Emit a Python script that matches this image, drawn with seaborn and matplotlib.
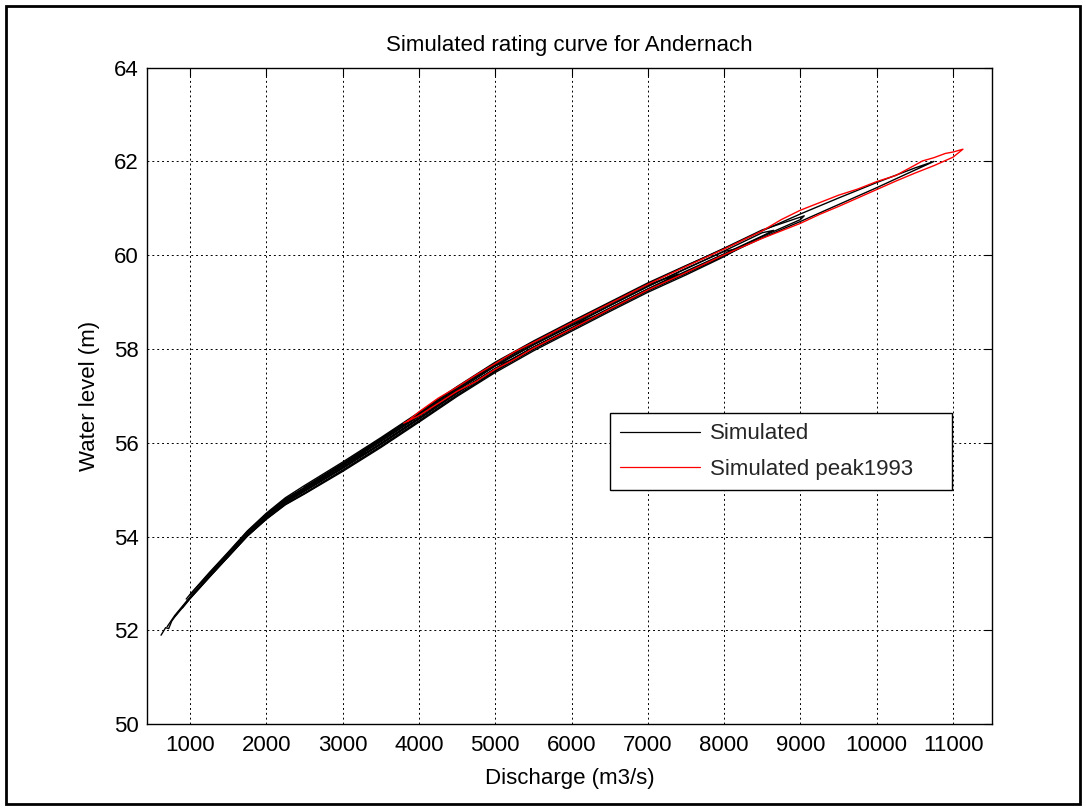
import numpy as np
import pandas as pd
import matplotlib
matplotlib.use("Agg")
import matplotlib.pyplot as plt
from matplotlib.patches import Rectangle
from matplotlib.lines import Line2D
import seaborn as sns

# ---------------------------------------------------------------------------
# Simulated stage-discharge loops at Andernach (Q in m3/s, h in m)
# Each event: rising limb then falling limb, as one continuous path.
# ---------------------------------------------------------------------------
ev1_q = [620, 680, 720, 760, 800, 1000, 1250, 1500, 1750, 2000, 2250, 2500, 3000, 3500, 4000, 4500, 5000,
         5500, 6000, 6500, 7000, 7500, 8000, 8500, 9000, 9500, 10000, 10400, 10750,
         10500, 10000, 9500, 9000, 8500, 8000, 7500, 7000, 6500, 6000, 5500, 5000, 4500,
         4000, 3500, 3000, 2500, 2250, 2000, 1750, 1500, 1250, 1000, 950]
ev1_h = [51.90, 52.06, 52.04, 52.20, 52.29, 52.68, 53.13, 53.57, 54.01, 54.38, 54.70, 54.93, 55.42, 55.93, 56.47, 57.02, 57.53,
         57.99, 58.41, 58.83, 59.24, 59.61, 59.99, 60.37, 60.72, 61.08, 61.44, 61.74, 62.00,
         61.86, 61.55, 61.22, 60.88, 60.52, 60.14, 59.78, 59.41, 59.00, 58.59, 58.17, 57.72, 57.20,
         56.65, 56.11, 55.59, 55.09, 54.83, 54.50, 54.12, 53.67, 53.23, 52.77, 52.67]

ev2_q = [1000, 1250, 1500, 1750, 2000, 2250, 2500, 3000, 3500, 4000, 4500, 5000, 5500, 6000,
         6500, 7000, 7500, 8000, 8500, 9000, 9050,
         8500, 8000, 7500, 7000, 6500, 6000, 5500, 5000, 4500, 4000, 3500, 3000, 2500, 2250,
         2000, 1750, 1500, 1250, 1150]
ev2_h = [52.70, 53.15, 53.60, 54.04, 54.41, 54.73, 54.97, 55.46, 55.97, 56.51, 57.06, 57.57, 58.03, 58.44,
         58.86, 59.27, 59.64, 60.02, 60.40, 60.76, 60.84,
         60.54, 60.15, 59.77, 59.39, 58.98, 58.57, 58.15, 57.70, 57.18, 56.63, 56.09, 55.56, 55.05, 54.80,
         54.48, 54.10, 53.65, 53.21, 53.02]

ev3_q = [800, 1000, 1250, 1500, 1750, 2000, 2250, 2500, 3000, 3500, 4000, 4500, 5000, 5500,
         6000, 6500, 7000, 7500, 8000, 8500, 8650,
         8500, 8000, 7500, 7000, 6500, 6000, 5500, 5000, 4500, 4000, 3500, 3000, 2500, 2250,
         2000, 1750, 1500]
ev3_h = [52.30, 52.71, 53.16, 53.61, 54.05, 54.42, 54.74, 54.98, 55.47, 55.99, 56.53, 57.08, 57.59, 58.04,
         58.45, 58.87, 59.28, 59.66, 60.03, 60.41, 60.53,
         60.48, 60.09, 59.71, 59.34, 58.93, 58.51, 58.10, 57.65, 57.13, 56.58, 56.04, 55.52, 55.02, 54.78,
         54.46, 54.09, 53.64]

ev4_q = [1300, 1500, 1750, 2000, 2250, 2500, 3000, 3500, 4000, 4500, 5000, 5500, 6000, 6500,
         7000, 7500, 8000, 8200,
         8000, 7500, 7000, 6500, 6000, 5500, 5000, 4500, 4000, 3500, 3000, 2500, 2250, 2000]
ev4_h = [53.23, 53.57, 54.01, 54.37, 54.68, 54.91, 55.39, 55.90, 56.44, 56.99, 57.50, 57.96, 58.38, 58.80,
         59.21, 59.58, 59.97, 60.15,
         60.08, 59.72, 59.33, 58.92, 58.50, 58.09, 57.64, 57.12, 56.57, 56.03, 55.51, 55.02, 54.78, 54.46]

ev5_q = [1100, 1250, 1500, 1750, 2000, 2250, 2500, 3000, 3500, 4000, 4500, 5000, 5500, 6000,
         6500, 7000, 7400,
         7000, 6500, 6000, 5500, 5000, 4500, 4000, 3500, 3000, 2500, 2250, 2000, 1800]
ev5_h = [52.88, 53.17, 53.61, 54.05, 54.42, 54.74, 54.98, 55.47, 55.98, 56.52, 57.07, 57.58, 58.04, 58.45,
         58.87, 59.28, 59.60,
         59.37, 58.96, 58.54, 58.13, 57.68, 57.16, 56.61, 56.07, 55.54, 55.04, 54.80, 54.47, 54.16]

ev6_q = [1600, 1750, 2000, 2250, 2500, 3000, 3500, 4000, 4500, 5000, 5500, 6000, 6300,
         6000, 5500, 5000, 4500, 4000, 3500, 3000, 2500, 2200]
ev6_h = [53.78, 54.04, 54.41, 54.73, 54.97, 55.46, 55.97, 56.51, 57.06, 57.57, 58.03, 58.44, 58.70,
         58.50, 58.09, 57.64, 57.12, 56.57, 56.03, 55.51, 55.02, 54.72]

ev7_q = [900, 1000, 1250, 1500, 1750, 2000, 2250, 2500, 3000, 3500, 4000, 4500, 5000, 5200,
         5000, 4500, 4000, 3500, 3000, 2500, 2250, 2000, 1750, 1500, 1400]
ev7_h = [52.48, 52.68, 53.13, 53.58, 54.02, 54.38, 54.69, 54.92, 55.41, 55.92, 56.46, 57.01, 57.53, 57.76,
         57.65, 57.13, 56.58, 56.04, 55.52, 55.02, 54.78, 54.46, 54.09, 53.64, 53.46]

ev8_q = [2000, 2250, 2500, 3000, 3500, 4000, 4300, 4000, 3500, 3000, 2500]
ev8_h = [54.42, 54.74, 54.98, 55.47, 55.98, 56.52, 56.85, 56.62, 56.08, 55.56, 55.06]

ev9_q = [700, 800, 1000, 1250, 1500, 1750, 2000, 2250, 2500, 3000, 3300,
         3000, 2500, 2250, 2000, 1750, 1500, 1250, 1000]
ev9_h = [52.08, 52.32, 52.71, 53.16, 53.61, 54.05, 54.42, 54.74, 54.98, 55.47, 55.79,
         55.54, 55.04, 54.80, 54.48, 54.10, 53.65, 53.21, 52.76]

# Flood of 1993
peak1993_q = [3800, 4000, 4250, 4500, 4750, 5000, 5250, 5500, 6000, 6500, 7000, 7500, 8000, 8500, 9000,
              9250, 9500, 9750, 10000, 10250, 10500, 10750, 11000, 11130,
              11000, 10900, 10750, 10600, 10500, 10250, 10000, 9750, 9500, 9250, 9000, 8750,
              8500, 8000, 7500, 7000, 6500, 6000, 5500, 5250, 5000, 4750, 4500, 4250, 4000, 3850]
peak1993_h = [56.42, 56.58, 56.84, 57.10, 57.31, 57.57, 57.78, 58.02, 58.43, 58.85, 59.26, 59.63, 60.01, 60.36, 60.68,
              60.87, 61.04, 61.22, 61.40, 61.58, 61.75, 61.91, 62.09, 62.26,
              62.20, 62.17, 62.08, 62.01, 61.92, 61.70, 61.57, 61.41, 61.28, 61.12, 60.96, 60.76,
              60.52, 60.13, 59.76, 59.38, 58.97, 58.56, 58.14, 57.94, 57.69, 57.45, 57.19, 56.95, 56.66, 56.46]

series_names = ["Simulated", "Simulated peak1993"]
x_ticks = [1000, 2000, 3000, 4000, 5000, 6000, 7000, 8000, 9000, 10000, 11000]
y_ticks = [50, 52, 54, 56, 58, 60, 62, 64]

# ---------------------------------------------------------------------------
events = [(ev1_q, ev1_h), (ev2_q, ev2_h), (ev3_q, ev3_h), (ev4_q, ev4_h), (ev5_q, ev5_h),
          (ev6_q, ev6_h), (ev7_q, ev7_h), (ev8_q, ev8_h), (ev9_q, ev9_h)]
frames = []
for i, (q, h) in enumerate(events):
    frames.append(pd.DataFrame({"Q": q, "h": h, "event": f"ev{i+1}",
                                "series": series_names[0]}))
frames.append(pd.DataFrame({"Q": peak1993_q, "h": peak1993_h, "event": "1993",
                            "series": series_names[1]}))
df = pd.concat(frames, ignore_index=True)

sns.set_theme(style="white")
plt.rcParams["font.family"] = ["Liberation Sans", "DejaVu Sans"]
plt.rcParams["font.size"] = 16

W, H = 1086, 810
fig = plt.figure(figsize=(W / 100, H / 100), dpi=100)
fig.patch.set_facecolor("white")
ax = fig.add_axes([147 / W, (H - 724.3) / H, 845 / W, 656.7 / H])

palette = {series_names[0]: "black", series_names[1]: "#ff0000"}
sns.lineplot(data=df, x="Q", y="h", hue="series", units="event", estimator=None,
             sort=False, palette=palette, linewidth=1.0, ax=ax, legend=False)

ax.set_xlim(436, 11511)
ax.set_ylim(50, 64)
ax.set_xticks(x_ticks)
ax.set_yticks(y_ticks)
ax.set_xticklabels([str(t) for t in x_ticks])
ax.set_yticklabels([str(t) for t in y_ticks])

ax.grid(True, color="black", linestyle=(0, (2, 3)), linewidth=0.7)
ax.set_axisbelow(True)
for sp in ax.spines.values():
    sp.set_visible(True)
    sp.set_color("black")
    sp.set_linewidth(1.0)
ax.tick_params(axis="both", which="major", direction="in", length=6, width=0.8,
               colors="black", labelsize=16, top=True, right=True)
ax.tick_params(axis="x", pad=8)
ax.tick_params(axis="y", pad=6)

ax.set_title("Simulated rating curve for Andernach", fontsize=16, pad=12, color="black")
ax.set_xlabel("Discharge (m3/s)", fontsize=16, labelpad=8, color="black")
ax.set_ylabel("Water level (m)", fontsize=16, labelpad=10, color="black")

handles = [Line2D([], [], color="black", linewidth=0.9),
           Line2D([], [], color="#ff0000", linewidth=0.9)]
leg = ax.legend(handles, series_names, loc="lower left",
                bbox_to_anchor=(0.548, 0.357, 0.405, 0.12), mode="expand",
                fontsize=16, frameon=True, fancybox=False, shadow=False,
                handlelength=3.6, handletextpad=0.45, labelspacing=0.65,
                borderpad=0.45, borderaxespad=0)
leg.get_frame().set_edgecolor("black")
leg.get_frame().set_linewidth(1.0)
leg.get_frame().set_alpha(1)

# outer frame around the figure
fig.patches.append(Rectangle((6 / W, 6 / H), 1 - 12 / W, 1 - 12 / H, transform=fig.transFigure,
                             fill=False, edgecolor="black", linewidth=2.0))

fig.savefig("out.png", dpi=100)
